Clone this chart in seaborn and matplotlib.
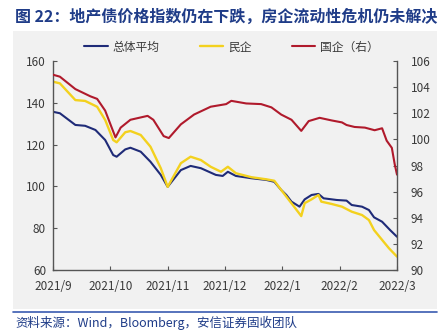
import matplotlib
matplotlib.use("Agg")
import matplotlib.pyplot as plt
import seaborn as sns
import pandas as pd
from matplotlib.patches import Rectangle
from matplotlib.lines import Line2D

# ---------------- data (x in months since 2021/9) ----------------
month_labels = ["2021/9", "2021/10", "2021/11", "2021/12", "2022/1", "2022/2", "2022/3"]

t_total = [0, 0.12, 0.39, 0.56, 0.74, 0.91, 1.05, 1.11, 1.26, 1.35, 1.53, 1.70, 1.88, 2.0,
           2.23, 2.40, 2.58, 2.84, 2.96, 3.05, 3.19, 3.46, 3.72, 3.86, 3.98, 4.07, 4.16, 4.30,
           4.39, 4.51, 4.63, 4.72, 4.95, 5.12, 5.21, 5.39, 5.51, 5.60, 5.74, 5.88, 6.0]
v_total = [135.7, 135.0, 129.4, 129.0, 127.0, 122.2, 115.0, 114.2, 117.7, 118.5, 116.6, 111.8, 105.5, 99.8,
           107.8, 109.8, 108.7, 105.5, 105.0, 107.0, 105.0, 103.9, 103.1, 102.2, 98.3, 95.9, 92.7, 90.3,
           93.8, 95.9, 96.4, 94.3, 93.5, 93.2, 91.1, 90.3, 88.7, 85.2, 83.1, 79.1, 75.9]

t_private = [0, 0.12, 0.39, 0.56, 0.77, 0.91, 1.05, 1.11, 1.26, 1.35, 1.53, 1.70, 1.88, 2.0,
             2.23, 2.40, 2.58, 2.75, 2.93, 3.05, 3.19, 3.46, 3.72, 3.86, 3.98, 4.16, 4.33,
             4.39, 4.51, 4.63, 4.68, 4.86, 5.04, 5.21, 5.39, 5.51, 5.60, 5.74, 5.86, 6.0]
v_private = [150.1, 149.3, 141.3, 140.9, 138.1, 131.8, 122.2, 121.1, 125.9, 126.5, 124.6, 119.0, 108.7, 99.8,
             111.1, 114.2, 112.6, 109.4, 107.0, 109.4, 106.3, 104.4, 103.4, 102.7, 98.3, 91.9, 85.8,
             92.0, 93.8, 95.9, 92.7, 91.6, 90.3, 87.9, 86.3, 83.9, 79.1, 74.4, 70.4, 66.4]

t_soe = [0, 0.12, 0.39, 0.65, 0.77, 0.91, 1.09, 1.18, 1.35, 1.65, 1.75, 1.93, 2.02,
         2.23, 2.46, 2.75, 3.02, 3.11, 3.37, 3.63, 3.81, 3.98, 4.16, 4.33,
         4.46, 4.65, 4.86, 5.04, 5.12, 5.26, 5.44, 5.61, 5.74, 5.82, 5.91, 5.96, 6.0]
v_soe = [104.95, 104.8, 103.85, 103.3, 103.1, 102.2, 100.15, 100.9, 101.5, 101.8, 101.5, 100.25, 100.1,
         101.15, 101.9, 102.5, 102.7, 102.95, 102.75, 102.7, 102.45, 101.9, 101.5, 100.65,
         101.4, 101.65, 101.45, 101.3, 101.1, 100.95, 100.9, 100.7, 100.85, 99.9, 99.35, 98.1, 97.3]

names = ["总体平均", "民企", "国企（右）"]
left_ticks = [60, 80, 100, 120, 140, 160]
right_ticks = [90, 92, 94, 96, 98, 100, 102, 104, 106]

# ---------------- style ----------------
sns.set_theme(style="white")
plt.rcParams["font.family"] = ["Noto Sans CJK SC", "DejaVu Sans"]
plt.rcParams["lines.solid_joinstyle"] = "round"

C_BLUE = "#1f2b78"
C_YEL = "#f3d11e"
C_RED = "#b01a2c"
BG = "#f1f1f1"
TXT = "#3a3a3a"

W, H = 445, 333
fig = plt.figure(figsize=(W / 100, H / 100), dpi=100)
fig.patch.set_facecolor("white")

# gray panel and bottom rule
fig.patches.append(Rectangle((13 / W, 1 - 309 / H), (437 - 13) / W, (309 - 31) / H,
                             transform=fig.transFigure, facecolor=BG, edgecolor="none", zorder=-10))
fig.lines.append(Line2D([13 / W, 437 / W], [1 - 312 / H, 1 - 312 / H], transform=fig.transFigure,
                        color="#3a5bb0", lw=1.2))

ax = fig.add_axes([53 / W, 1 - 270 / H, (397 - 53) / W, (270 - 61) / H])
ax.set_facecolor(BG)
ax2 = ax.twinx()

df_total = pd.DataFrame({"t": t_total, "v": v_total})
df_priv = pd.DataFrame({"t": t_private, "v": v_private})
df_soe = pd.DataFrame({"t": t_soe, "v": v_soe})

sns.lineplot(data=df_total, x="t", y="v", ax=ax, color=C_BLUE, lw=1.5, legend=False)
sns.lineplot(data=df_priv, x="t", y="v", ax=ax, color=C_YEL, lw=1.7, legend=False)
sns.lineplot(data=df_soe, x="t", y="v", ax=ax2, color=C_RED, lw=1.5, legend=False)

ax.set_xlim(0, 6)
ax.set_ylim(60, 160)
ax2.set_ylim(90, 106)
ax.set_yticks(left_ticks)
ax2.set_yticks(right_ticks)
ax.set_xticks(range(len(month_labels)))
ax.set_xticklabels(month_labels)
for a in (ax, ax2):
    a.set_xlabel("")
    a.set_ylabel("")
    for s in a.spines.values():
        s.set_color("#555555")
        s.set_linewidth(1.0)
    a.spines["top"].set_visible(False)
ax.spines["right"].set_visible(False)
ax2.spines["left"].set_visible(False)
ax2.spines["bottom"].set_visible(False)

ax.tick_params(axis="y", direction="in", length=3, width=0.8, color="#555555",
               labelsize=8.5, labelcolor=TXT, pad=5, left=True)
ax.tick_params(axis="x", direction="in", length=3, width=0.8, color="#555555",
               labelsize=8.5, labelcolor=TXT, pad=7, bottom=True)
ax2.tick_params(axis="y", direction="in", length=3, width=0.8, color="#555555",
                labelsize=8.5, labelcolor=TXT, pad=10, right=True)

handles = [Line2D([], [], color=C_BLUE, lw=1.5),
           Line2D([], [], color=C_YEL, lw=1.7),
           Line2D([], [], color=C_RED, lw=1.5)]
fig.legend(handles, names, loc="center", bbox_to_anchor=(0.52, 1 - 47 / H), ncol=3,
           frameon=False, fontsize=8.5, handlelength=2.0, handletextpad=0.4,
           columnspacing=3.4, labelcolor=TXT)

fig.text(15 / W, 1 - 17 / H, "图 22：地产债价格指数仍在下跌，房企流动性危机仍未解决",
         fontsize=11.5, fontweight="bold", color="#1f3c88", va="center", ha="left")
fig.text(15 / W, 1 - 323 / H, "资料来源：Wind，Bloomberg，安信证券固收团队",
         fontsize=9, style="italic", color="#1f3c88", va="center", ha="left")

fig.savefig("out.png", dpi=100, facecolor="white")
